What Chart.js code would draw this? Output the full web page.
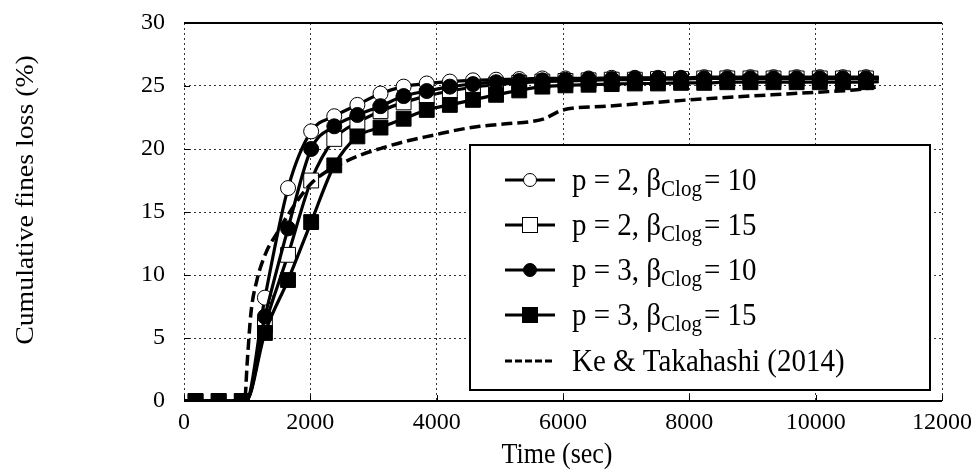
<!DOCTYPE html>
<html><head><meta charset="utf-8">
<script src="https://cdn.jsdelivr.net/npm/chart.js@4.4.0/dist/chart.umd.min.js"></script>
<style>html,body{margin:0;padding:0;background:#fff;}#wrap{width:980px;height:472px;position:relative;}</style>
</head><body><div id="wrap"><canvas id="c" width="980" height="472"></canvas></div>
<script>
// ---- data ----
const xTicks = [0, 2000, 4000, 6000, 8000, 10000, 12000];
const yTicks = [0, 5, 10, 15, 20, 25, 30];
const seriesLabels = ['p = 2, β|Clog|= 10', 'p = 2, β|Clog|= 15', 'p = 3, β|Clog|= 10', 'p = 3, β|Clog|= 15', 'Ke & Takahashi (2014)'];
// marker times (sec)
const tMarks = [183,549,915,1281,1647,2013,2379,2745,3111,3477,3843,4209,4575,4941,5307,5673,6039,6405,6771,7137,7503,7869,8235,8601,8967,9333,9699,10065,10431,10797];
const yA = [0,0,0,8.2,16.9,21.4,22.6,23.5,24.4,24.95,25.2,25.35,25.45,25.5,25.55,25.6,25.6,25.6,25.65,25.65,25.65,25.65,25.7,25.7,25.7,25.7,25.7,25.7,25.7,25.7];
const yB = [0,0,0,6.0,11.6,17.5,20.8,22.1,23.0,23.7,24.2,24.6,24.9,25.1,25.25,25.35,25.4,25.45,25.5,25.5,25.55,25.55,25.6,25.6,25.6,25.6,25.6,25.6,25.6,25.6];
const yC = [0,0,0,6.7,13.7,20.0,21.8,22.7,23.4,24.2,24.6,24.95,25.15,25.3,25.4,25.45,25.5,25.55,25.55,25.6,25.6,25.6,25.6,25.6,25.6,25.6,25.6,25.6,25.6,25.6];
const yD = [0,0,0,5.4,9.6,14.2,18.7,21.0,21.7,22.4,23.1,23.5,23.9,24.3,24.65,24.95,25.05,25.1,25.15,25.2,25.2,25.25,25.25,25.3,25.3,25.3,25.3,25.3,25.3,25.3];
// unmarked curve points (start, onset, end)
const tExtra = [0, 980, 11000];
const yExtraA = [0, 0, 25.7];
const yExtraB = [0, 0, 25.6];
const yExtraC = [0, 0, 25.6];
const yExtraD = [0, 0, 25.35];
// Ke & Takahashi (2014)
const tKe = [0,960,1000,1060,1150,1300,1470,1650,1810,2020,2250,2470,2785,3150,3580,3950,4315,4685,5100,5520,5700,6000,6700,8000,9300,10000,10650,10950];
const yKe = [0,0,3,7,9.5,11.8,13.3,14.8,16.0,17.3,18.2,18.8,19.5,20.1,20.7,21.1,21.5,21.8,22.0,22.2,22.4,23.1,23.4,23.9,24.3,24.5,24.7,24.9];

function build(ys, yEx) {
  const pts = [];
  tMarks.forEach((t, i) => pts.push({x: t, y: ys[i], m: 1}));
  tExtra.forEach((t, i) => pts.push({x: t, y: yEx[i], m: 0}));
  pts.sort((a, b) => a.x - b.x);
  return pts;
}
const styles = [
  {style: 'circle', fill: '#fff', r: 7.5},
  {style: 'rect', fill: '#fff', r: 10.5},
  {style: 'circle', fill: '#000', r: 7.5},
  {style: 'rect', fill: '#000', r: 10.5}
];
const sets = [[yA, yExtraA], [yB, yExtraB], [yC, yExtraC], [yD, yExtraD]].map((s, k) => {
  const data = build(s[0], s[1]);
  return {
    label: seriesLabels[k], data,
    borderColor: '#000', borderWidth: 3.2,
    pointStyle: styles[k].style,
    pointRadius: data.map(p => p.m ? styles[k].r : 0),
    pointBackgroundColor: styles[k].fill,
    pointBorderColor: '#000', pointBorderWidth: 1,
    cubicInterpolationMode: 'monotone', order: 5 - k, fill: false
  };
});
sets.push({
  label: seriesLabels[4], data: tKe.map((t, i) => ({x: t, y: yKe[i]})),
  borderColor: '#000', borderWidth: 3.5, borderDash: [11, 5], pointRadius: 0,
  cubicInterpolationMode: 'monotone', order: 0, fill: false
});

const FONT = 'Liberation Serif';
function stretchText(ctx, txt, x, y, sy) {
  ctx.save(); ctx.translate(x, y); ctx.scale(1, sy); ctx.fillText(txt, 0, 0); ctx.restore();
}
const deco = {
  id: 'deco',
  afterDraw(chart) {
    const ctx = chart.ctx, a = chart.chartArea;
    const xs = chart.scales.x, ys = chart.scales.y;
    ctx.save();
    ctx.strokeStyle = '#000'; ctx.setLineDash([]);
    ctx.lineWidth = 2;
    ctx.beginPath(); ctx.moveTo(a.left, a.top); ctx.lineTo(a.right, a.top); ctx.stroke();
    ctx.beginPath(); ctx.moveTo(a.left, a.bottom); ctx.lineTo(a.right, a.bottom); ctx.stroke();
    ctx.lineWidth = 1;
    yTicks.forEach(v => { const y = Math.round(ys.getPixelForValue(v)) + 0.5; ctx.beginPath(); ctx.moveTo(a.left, y); ctx.lineTo(a.left + 6, y); ctx.stroke(); });
    xTicks.forEach(v => { const x = Math.round(xs.getPixelForValue(v)) + 0.5; ctx.beginPath(); ctx.moveTo(x, a.bottom); ctx.lineTo(x, a.bottom - 6); ctx.stroke(); });
    // axis titles
    ctx.fillStyle = '#000';
    ctx.font = '26px "' + FONT + '"';
    ctx.textAlign = 'center'; ctx.textBaseline = 'middle';
    stretchText(ctx, 'Time (sec)', 557, 455, 1.1);
    ctx.save(); ctx.translate(26, 200); ctx.rotate(-Math.PI / 2); ctx.scale(1.07, 1);
    ctx.fillText('Cumulative fines loss (%)', 0, 0); ctx.restore();
    // legend
    const bx = 470, by = 145, bw = 460, bh = 245;
    ctx.fillStyle = '#fff'; ctx.fillRect(bx, by, bw, bh);
    ctx.lineWidth = 2; ctx.strokeStyle = '#000'; ctx.strokeRect(bx, by, bw, bh);
    const rows = [180, 225, 270, 315, 361];
    rows.forEach((ry, k) => {
      const ds = chart.data.datasets[k];
      ctx.lineWidth = 3.2; ctx.strokeStyle = '#000';
      ctx.setLineDash(k === 4 ? [7, 3] : []);
      ctx.beginPath(); ctx.moveTo(505, ry); ctx.lineTo(555, ry); ctx.stroke();
      ctx.setLineDash([]);
      if (k < 4) {
        ctx.lineWidth = 1; ctx.fillStyle = styles[k].fill;
        if (styles[k].style === 'circle') { ctx.beginPath(); ctx.arc(530, ry, 6.5, 0, Math.PI * 2); ctx.fill(); ctx.stroke(); }
        else { ctx.fillRect(522.5, ry - 7.5, 15, 15); ctx.strokeRect(522.5, ry - 7.5, 15, 15); }
      }
      ctx.fillStyle = '#000'; ctx.textAlign = 'left'; ctx.textBaseline = 'alphabetic';
      const parts = ds.label.split('|');
      const base = ry + 10;
      let x = 572;
      ctx.font = '29px "' + FONT + '"';
      stretchText(ctx, parts[0], x, base, 1.08); x += ctx.measureText(parts[0]).width;
      if (parts.length > 1) {
        ctx.font = '21px "' + FONT + '"';
        stretchText(ctx, parts[1], x, base + 6, 1.08); x += ctx.measureText(parts[1]).width + 2;
        ctx.font = '29px "' + FONT + '"';
        stretchText(ctx, parts[2], x, base, 1.08);
      }
    });
    ctx.restore();
  }
};

new Chart(document.getElementById('c'), {
  type: 'line',
  data: {datasets: sets},
  options: {
    responsive: false, animation: false, devicePixelRatio: 1,
    layout: {padding: {left: 0, top: 23, right: 38, bottom: 0}},
    plugins: {legend: {display: false}, tooltip: {enabled: false}},
    scales: {
      x: {
        type: 'linear', min: 0, max: 12000,
        afterBuildTicks: s => { s.ticks = xTicks.map(v => ({value: v})); },
        afterFit: s => { s.height = 71; s.paddingLeft = 0; s.paddingRight = 0; },
        ticks: {color: '#000', font: {family: FONT, size: 24}, padding: 7, maxRotation: 0, autoSkip: false, callback: v => String(v)},
        grid: {color: '#333', lineWidth: 1, drawTicks: false},
        border: {display: false, dash: [2, 3]}
      },
      y: {
        min: 0, max: 30,
        afterBuildTicks: s => { s.ticks = yTicks.map(v => ({value: v})); },
        afterFit: s => { s.width = 184; s.paddingTop = 0; s.paddingBottom = 0; },
        ticks: {color: '#000', font: {family: FONT, size: 24}, padding: 19, autoSkip: false, callback: v => String(v)},
        grid: {color: '#333', lineWidth: 1, drawTicks: false},
        border: {display: false, dash: [2, 3]}
      }
    }
  },
  plugins: [deco]
});
</script></body></html>
